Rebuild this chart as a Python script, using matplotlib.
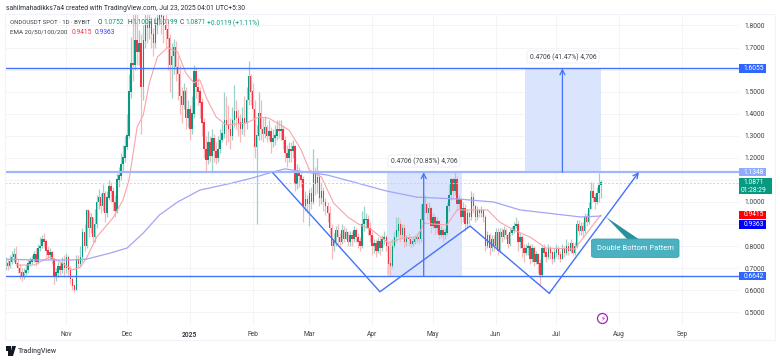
import matplotlib
matplotlib.use("Agg")
from matplotlib import pyplot as plt
from matplotlib.patches import Rectangle, FancyBboxPatch, Polygon

plt.rcParams['font.family'] = ['Roboto', 'DejaVu Sans']

# day 0 = 1 Oct 2024, daily candles
closes = [
    .70, .72, .71, .73, .75, .76, .72, .70, .68, .66,
    .68, .69, .72, .73, .74, .76, .73, .79, .80, .83,
    .82, .78, .76, .77, .74, .66, .68, .71, .69, .72,
    .70, .75, .69, .65, .62, .60, .74, .72, .75, .86,
    .80, .96, .88, .93, .84, .90, 1.00, 1.02, .98, 1.04,
    .95, 1.02, 1.07, 1.05, 1.00, .96, 1.10, 1.12, 1.17, 1.20,
    1.25, 1.30, 1.50, 1.63, 1.62, 1.73, 1.68, 1.72, 1.52, 1.73,
    1.80, 1.79, 1.82, 1.76, 1.72, 1.80, 1.83, 1.86, 1.84, 1.80,
    1.78, 1.74, 1.62, 1.66, 1.70, 1.61, 1.58, 1.48, 1.44, 1.50,
    1.38, 1.42, 1.33, 1.40, 1.59, 1.52, 1.50, 1.45, 1.36, 1.24,
    1.19, 1.27, 1.21, 1.29, 1.23, 1.20, 1.24, 1.28, 1.31, 1.37,
    1.35, 1.33, 1.30, 1.37, 1.41, 1.38, 1.36, 1.33, 1.38, 1.36,
    1.46, 1.57, 1.50, 1.42, 1.25, 1.30, 1.40, 1.33, 1.31, 1.34,
    1.30, 1.32, 1.27, 1.29, 1.30, 1.33, 1.32, 1.33, 1.28, 1.22,
    1.20, 1.24, 1.23, 1.25, 1.08, 1.13, 1.12, 1.10, .98, 1.01,
    .99, 1.04, 1.00, 1.13, 1.08, 1.11, 1.02, 1.05, 1.00, .98,
    .95, .88, .80, .82, .87, .84, .82, .87, .83, .86,
    .82, .85, .83, .87, .84, .82, .80, .90, .92, .92,
    .88, .85, .80, .81, .78, .82, .79, .83, .84, .80,
    .72, .71, .80, .84, .87, .90, .85, .88, .82, .84,
    .83, .81, .82, .83, .84, .83, .92, .99, .99, .95,
    .97, .89, .93, .88, .91, .85, .87, .85, .86, .98,
    1.03, 1.10, 1.05, 1.10, .99, 1.01, .93, .97, .90, .95,
    .93, 1.02, .98, .93, .96, .95, .96, .93, .80, .85,
    .79, .83, .80, .86, .78, .86, .84, .87, .85, .81,
    .86, .87, .89, .90, .82, .84, .79, .77, .79, .80,
    .74, .79, .73, .76, .72, .67, .79, .77, .75, .79,
    .77, .74, .77, .79, .76, .74, .79, .77, .80, .78,
    .81, .77, .80, .90, .87, .89, .87, .93, .91, .97,
    1.05, 1.02, 1.00, 1.04, 1.0752, 1.0871,
]
highs = [
    .74, .75, .74, .76, .78, .79, .80, .74, .72, .70,
    .70, .72, .74, .75, .76, .78, .79, .81, .84, .85,
    .86, .83, .80, .79, .78, .75, .70, .73, .73, .75,
    .76, .77, .76, .71, .66, .62, .76, .76, .80, .88,
    .90, .97, .96, .95, .93, .97, 1.03, 1.06, 1.04, 1.08,
    1.05, 1.05, 1.10, 1.09, 1.07, 1.03, 1.13, 1.16, 1.22, 1.26,
    1.30, 1.40, 1.58, 1.75, 1.85, 1.85, 1.85, 1.78, 1.76, 1.80,
    1.85, 1.85, 1.85, 1.84, 1.79, 1.84, 1.85, 1.88, 1.88, 1.86,
    1.85, 1.82, 1.76, 1.72, 1.74, 1.73, 1.66, 1.62, 1.52, 1.54,
    1.52, 1.46, 1.44, 1.48, 1.62, 1.61, 1.56, 1.52, 1.47, 1.38,
    1.30, 1.32, 1.30, 1.33, 1.31, 1.27, 1.30, 1.33, 1.36, 1.50,
    1.48, 1.44, 1.38, 1.43, 1.53, 1.46, 1.42, 1.40, 1.43, 1.48,
    1.52, 1.64, 1.58, 1.54, 1.46, 1.35, 1.50, 1.46, 1.38, 1.39,
    1.35, 1.37, 1.34, 1.33, 1.35, 1.37, 1.37, 1.37, 1.35, 1.30,
    1.26, 1.27, 1.27, 1.28, 1.26, 1.17, 1.16, 1.14, 1.12, 1.05,
    1.03, 1.06, 1.07, 1.24, 1.16, 1.20, 1.13, 1.09, 1.07, 1.02,
    1.00, .98, .90, .86, .89, .90, .86, .90, .89, .88,
    .87, .87, .87, .89, .88, .86, .84, .96, .98, .95,
    .94, .91, .87, .83, .83, .84, .84, .85, .87, .85,
    .82, .82, .83, .87, .93, .93, .92, .90, .90, .85,
    .86, .84, .84, .85, .86, .87, .99, 1.04, 1.03, 1.00,
    1.00, .98, .95, .94, .93, .92, .89, .88, .88, 1.00,
    1.08, 1.11, 1.11, 1.14, 1.12, 1.03, 1.02, 1.00, .99, .97,
    .96, 1.05, 1.04, .99, .98, .97, .98, .97, .94, .87,
    .86, .85, .85, .88, .88, .88, .88, .89, .88, .86,
    .88, .89, .91, .93, .92, .86, .85, .81, .81, .82,
    .81, .81, .80, .78, .77, .74, .80, .81, .79, .81,
    .80, .78, .79, .81, .80, .78, .81, .80, .83, .82,
    .83, .82, .82, .92, .92, .91, .91, .95, .95, 1.00,
    1.09, 1.09, 1.04, 1.07, 1.13, 1.1007,
]
lows = [
    .68, .69, .69, .70, .72, .73, .71, .68, .65, .64,
    .65, .67, .68, .71, .72, .73, .71, .72, .78, .79,
    .79, .75, .74, .74, .72, .63, .64, .66, .67, .68,
    .66, .68, .66, .63, .60, .59, .60, .70, .71, .73,
    .78, .79, .84, .86, .82, .82, .88, .97, .95, .96,
    .91, .93, 1.01, 1.00, .96, .93, .95, 1.07, 1.10, 1.14,
    1.18, 1.24, 1.29, 1.47, 1.55, 1.60, 1.62, 1.62, 1.31, 1.46,
    1.70, 1.72, 1.74, 1.70, 1.66, 1.70, 1.76, 1.80, 1.76, 1.72,
    1.70, 1.60, 1.50, 1.47, 1.58, 1.55, 1.46, 1.40, 1.36, 1.42,
    1.33, 1.34, 1.28, 1.31, 1.38, 1.47, 1.44, 1.38, 1.30, 1.20,
    1.13, 1.17, 1.18, 1.13, 1.18, 1.17, 1.18, 1.22, 1.27, 1.29,
    1.26, 1.27, 1.24, 1.28, 1.34, 1.33, 1.30, 1.27, 1.31, 1.30,
    1.33, 1.44, 1.44, 1.38, 1.20, .90, 1.28, 1.28, 1.27, 1.29,
    1.27, 1.28, 1.22, 1.25, 1.26, 1.28, 1.29, 1.28, 1.24, 1.18,
    1.16, 1.18, 1.18, 1.20, 1.05, 1.06, 1.07, 1.07, .91, .96,
    .95, .89, .97, .99, 1.03, 1.04, .98, .99, .96, .94,
    .91, .85, .74, .78, .80, .81, .79, .81, .82, .83,
    .80, .80, .80, .82, .82, .79, .78, .79, .87, .88,
    .85, .82, .76, .77, .75, .77, .76, .78, .81, .78,
    .68, .67, .70, .79, .82, .84, .82, .83, .79, .80,
    .80, .79, .80, .81, .82, .81, .82, .90, .95, .92,
    .92, .86, .88, .85, .86, .83, .84, .82, .83, .85,
    .96, 1.01, 1.02, 1.03, .96, .97, .90, .91, .87, .88,
    .90, .92, .95, .91, .92, .93, .93, .91, .78, .79,
    .76, .78, .78, .79, .76, .77, .82, .83, .83, .79,
    .80, .85, .86, .88, .78, .79, .75, .73, .76, .76,
    .72, .73, .71, .72, .68, .62, .66, .75, .73, .74,
    .74, .72, .73, .75, .74, .73, .74, .75, .76, .76,
    .77, .76, .76, .79, .85, .85, .84, .86, .89, .90,
    .97, 1.00, .97, .99, 1.00, 1.0199,
]

ema20_days = [7, 15, 23, 29, 34, 38, 41, 46, 54, 59, 62, 66, 69, 72, 76, 81, 86, 90, 94, 97,
              100, 105, 110, 120, 126, 131, 141, 147, 151, 157, 163, 170, 176, 182, 190, 197,
              204, 208, 212, 219, 224, 229, 239, 245, 252, 260, 268, 282, 295]
ema20 = [.714, .714, .751, .723, .692, .705, .746, .841, .927, 1.009, 1.10, 1.34, 1.394, 1.539,
         1.657, 1.70, 1.68, 1.585, 1.54, 1.553, 1.476, 1.385, 1.349, 1.358, 1.385, 1.38, 1.326,
         1.236, 1.145, 1.113, .995, .932, .896, .873, .814, .837, .841, .905, .900, .896, .964,
         .964, .964, .909, .873, .841, .791, .787, .9415]
ema200_days = [1, 15, 34, 41, 53, 61, 69, 77, 86, 97, 113, 123, 133, 139, 146, 160, 173, 189,
               204, 225, 242, 255, 285, 295]
ema200 = [.741, .737, .737, .741, .769, .791, .859, .941, 1.0, 1.054, 1.086, 1.109, 1.136, 1.15,
          1.14, 1.122, 1.09, 1.05, 1.022, 1.013, 1.0, .964, .932, .9363]

month_days = [31, 61, 92, 123, 151, 182, 212, 243, 273, 304, 335]
month_labels = ["Nov", "Dec", "2025", "Feb", "Mar", "Apr", "May", "Jun", "Jul", "Aug", "Sep"]
grid_prices = [.5, .6, .7, .8, .9, 1.0, 1.1, 1.2, 1.3, 1.4, 1.5, 1.6, 1.7, 1.8]
price_ticks = [.5, .6, .7, .8, 1.0, 1.2, 1.3, 1.4, 1.5, 1.7, 1.8]

resistance = 1.1348
support = 0.6642
target = 1.6055
last_price = 1.0871
pattern_days = [133.1, 185.9, 230.4, 269.5, 313.8]
pattern_prices = [1.131, .593, .891, .586, 1.136]

GREEN = "#089981"
RED = "#f23645"
TEXT = "#3c3f48"
W, H = 780, 360
FS = 4.8


def fx(px):
    return px / W


def fy(py):
    return 1 - py / H


def tag(py0, py1, text, bg, fg="white", right=766):
    fig.patches.append(Rectangle((fx(739), fy(py1)), (right - 739) / W, (py1 - py0) / H,
                                 transform=fig.transFigure, color=bg, lw=0, zorder=5))
    fig.text(fx(753.5), fy((py0 + py1) / 2), text, color=fg, fontsize=FS,
             ha="center", va="center", zorder=6)


fig = plt.figure(figsize=(W / 100, H / 100), dpi=100)
ax = fig.add_axes([fx(5), fy(325), (739 - 5) / W, (325 - 14) / H])
ax.set_xlim(.74, 363.2)
ax.set_ylim(.4423, 1.8521)

for m in month_days:
    ax.axvline(m, color="#f3f4f7", lw=.7, zorder=0)
for g in grid_prices:
    ax.axhline(g, color="#f3f4f7", lw=.7, zorder=0)

# measure boxes sit under the candles
ax.add_patch(Rectangle((189.2, support), 37, resistance - support, color="#dbe4fd", lw=0, zorder=1))
ax.add_patch(Rectangle((257.5, resistance), 37.5, target - resistance, color="#dbe4fd", lw=0, zorder=1))

# candles
for i in range(len(closes)):
    o = closes[i - 1] if i > 0 else .69
    c = closes[i]
    up = c >= o
    ax.vlines(i, lows[i], highs[i], color="#9ad3c8" if up else "#f8b9bd", lw=.9, zorder=2)
    ax.bar(i, abs(c - o) + .002, bottom=min(o, c), width=.72, color=GREEN if up else RED, lw=0, zorder=3)

ax.plot(ema20_days, ema20, color="#f8a5a8", lw=.8, zorder=4)
ax.plot(ema200_days, ema200, color="#a3a5f5", lw=.9, zorder=4)

ax.axhline(last_price, color="#b5e0d7", lw=.7, ls=(0, (2, 2)), zorder=4)
ax.axhline(target, color="#4472fb", lw=1, zorder=5)
ax.axhline(resistance, color="#9fb8fd", lw=1.6, zorder=5)
ax.axhline(support, color="#4472fb", lw=1, zorder=5)

# measure arrows
ax.annotate("", xy=(207.5, resistance), xytext=(207.5, support), zorder=5,
            arrowprops=dict(arrowstyle="->", color="#4472fb", lw=.9, mutation_scale=9, shrinkA=0, shrinkB=0))
ax.annotate("", xy=(276, target), xytext=(276, resistance), zorder=5,
            arrowprops=dict(arrowstyle="->", color="#4472fb", lw=.9, mutation_scale=9, shrinkA=0, shrinkB=0))

# double bottom
ax.plot(pattern_days[:-1], pattern_prices[:-1], color="#4472fb", lw=1, zorder=6)
ax.annotate("", xy=(pattern_days[-1], pattern_prices[-1]), xytext=(pattern_days[-2], pattern_prices[-2]), zorder=6,
            arrowprops=dict(arrowstyle="->", color="#4472fb", lw=1, mutation_scale=9, shrinkA=0, shrinkB=0))

ax.yaxis.tick_right()
ax.set_yticks(price_ticks)
ax.set_yticklabels(["%.4f" % p for p in price_ticks])
ax.set_xticks(month_days)
ax.set_xticklabels(month_labels)
ax.tick_params(axis="both", length=0, labelsize=FS, labelcolor=TEXT)
ax.tick_params(axis="y", pad=4)
ax.tick_params(axis="x", pad=4)
ax.get_xticklabels()[2].set_fontweight("bold")
for s in ax.spines.values():
    s.set_visible(False)

# outer frame
fig.patches.append(Rectangle((fx(5), fy(340)), 770 / W, 326 / H, transform=fig.transFigure,
                             fill=False, ec="#f0f3fa", lw=.8, zorder=0))

# header
fig.text(fx(6), fy(8), "sahilmahadikks7a4 created with TradingView.com, Jul 23, 2025 04:01 UTC+5:30",
         color="#2a2e39", fontsize=4.85, va="center")
fig.text(fx(10), fy(23), "ONDOUSDT SPOT · 1D · BYBIT", color=TEXT, fontsize=4.3, va="center", zorder=7)
for px, txt, col in [(98, "O", TEXT), (103, "1.0752", GREEN), (127, "H", TEXT), (132, "1.1007", GREEN),
                     (153, "L", TEXT), (157, "1.0199", GREEN), (180, "C", TEXT), (185, "1.0871", GREEN),
                     (207, "+0.0119 (+1.11%)", GREEN)]:
    fig.text(fx(px), fy(23), txt, color=col, fontsize=4.8, va="center", zorder=7)
fig.text(fx(10), fy(32), "EMA 20/50/100/200", color=TEXT, fontsize=4.5, va="center", zorder=7)
fig.text(fx(71.5), fy(32), "0.9415", color=RED, fontsize=4.8, va="center", zorder=7)
fig.text(fx(95), fy(32), "0.9363", color="#3d3df5", fontsize=4.8, va="center", zorder=7)

# measure labels
for px0, px1, py0, py1, txt in [(388, 460, 155, 167, "0.4706 (70.85%) 4,706"),
                                (527, 599, 51, 63, "0.4706 (41.47%) 4,706")]:
    fig.patches.append(FancyBboxPatch((fx(px0), fy(py1)), (px1 - px0) / W, (py1 - py0) / H,
                                      boxstyle="round,pad=0,rounding_size=0.004", transform=fig.transFigure,
                                      fc="white", ec="#eceef3", lw=.6, zorder=7))
    fig.text(fx((px0 + px1) / 2), fy((py0 + py1) / 2), txt, color=TEXT, fontsize=4.9,
             ha="center", va="center", zorder=8)

# callout
fig.patches.append(Polygon([(fx(606), fy(217)), (fx(628), fy(240)), (fx(640), fy(240))],
                           transform=fig.transFigure, fc="#26919f", lw=0, zorder=7))
fig.patches.append(FancyBboxPatch((fx(591.5), fy(257.5)), 87.5 / W, 18.5 / H,
                                  boxstyle="round,pad=0,rounding_size=0.005", transform=fig.transFigure,
                                  fc="#4bb0bf", ec="#3aa3b3", lw=.6, zorder=7))
fig.text(fx(635.5), fy(248.5), "Double Bottom Pattern", color="white", fontsize=5.4,
         ha="center", va="center", zorder=8)

# price tags
tag(64, 73, "1.6055", "#2f66ff")
tag(168, 176, "1.1348", "#8fabfc")
tag(178, 194, "", GREEN, right=772)
fig.text(fx(753.5), fy(182.5), "1.0871", color="white", fontsize=FS, ha="center", va="center", zorder=6)
fig.text(fx(753.5), fy(190), "01:28:29", color="white", fontsize=FS, ha="center", va="center", zorder=6)
tag(211, 219, "0.9415", "#ff0000")
tag(220, 229, "0.9363", "#0000ff")
tag(272, 280, "0.6642", "#2f66ff")

# lightning icon
fig.patches.append(plt.Circle((602.5, H - 318.5), 5, transform=None, fc="white", ec="#9c27b0", lw=.9, zorder=7))
fig.text(fx(602.5), fy(318.5), "\u26a1", color="#9c27b0", fontsize=5, ha="center", va="center",
         family=["DejaVu Sans"], zorder=8)

# TradingView logo
fig.patches.append(Rectangle((fx(6), fy(351)), 5 / W, 5 / H, transform=fig.transFigure, color="#131722", lw=0))
fig.patches.append(Rectangle((fx(8), fy(356)), 3 / W, 5 / H, transform=fig.transFigure, color="#131722", lw=0))
fig.patches.append(Polygon([(fx(12), fy(346)), (fx(16), fy(346)), (fx(13), fy(356)), (fx(10), fy(356))],
                           transform=fig.transFigure, color="#131722", lw=0))
fig.text(fx(18), fy(351), "TradingView", color="#4a4e59", fontsize=5.0, va="center", fontweight="medium")

fig.savefig("out.png", dpi=100)
